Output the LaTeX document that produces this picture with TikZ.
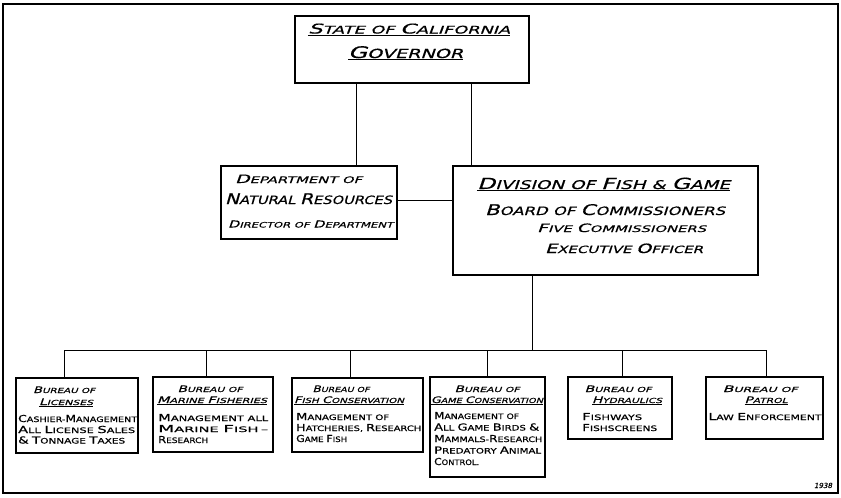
\documentclass[tikz,border=0pt]{standalone}
\usepackage{fontspec}
\usepackage{graphicx}
\newfontfamily\handsl[FakeSlant=0.22,FakeBold=0.5]{DejaVu Sans}
\newfontfamily\handup[FakeBold=0.5]{DejaVu Sans}
\newcommand\C[1]{\scalebox{1.28}{#1}}
\newcommand\lw[2]{\resizebox{#1pt}{\height}{#2}}
\newcommand\fs[1]{\fontsize{#1}{#1}\selectfont}
\begin{document}
\begin{tikzpicture}[x=1pt,y=-1pt,
  frame/.style={draw, line width=1.3pt, inner sep=0},
  bigbox/.style={draw, line width=1.6pt, inner sep=0},
  midbox/.style={draw, line width=1.1pt, inner sep=0},
  bbox/.style={draw, line width=1.4pt, inner sep=0},
  conn/.style={line width=0.7pt},
  tc/.style={inner sep=0, anchor=base},
  tl/.style={inner sep=0, anchor=base west},
  hsl/.style={font=\handsl},
  hup/.style={font=\handup}]
\useasboundingbox (0,0) rectangle (841,498);
% frame
\node[frame, minimum width=835pt, minimum height=489pt] (frm) at (420.5,248.5) {};
% main boxes
\node[bigbox, minimum width=234pt, minimum height=67pt] (gov) at (412,49.5) {};
\node[midbox, minimum width=176pt, minimum height=73pt] (dept) at (309,202.5) {};
\node[bigbox, minimum width=305pt, minimum height=109pt] (div) at (605.5,220.5) {};
% bureau boxes
\node[bbox, minimum width=122pt, minimum height=75pt] (bl) at (77,415.5) {};
\node[bbox, minimum width=120pt, minimum height=75pt] (bm) at (213,414.5) {};
\node[bbox, minimum width=131pt, minimum height=74pt] (bf) at (357.5,415) {};
\node[bbox, minimum width=115pt, minimum height=100pt] (bg) at (487.5,427) {};
\node[bbox, minimum width=104pt, minimum height=62pt] (bh) at (620,408) {};
\node[bbox, minimum width=117pt, minimum height=62pt] (bp) at (764.5,408) {};
% connector coordinates
\coordinate (gx1) at (356,120);
\coordinate (gx2) at (471,120);
\coordinate (hy) at (425,200);
\coordinate (dd) at (532,350);
\coordinate (b1) at (64,350);
\coordinate (b2) at (206,350);
\coordinate (b3) at (350,350);
\coordinate (b4) at (487,350);
\coordinate (b5) at (622,350);
\coordinate (b6) at (766,350);
% connectors
\draw[conn] (gov.south -| gx1) -- (dept.north -| gx1);
\draw[conn] (gov.south -| gx2) -- (div.north -| gx2);
\draw[conn] (dept.east |- hy) -- (div.west |- hy);
\draw[conn] (div.south -| dd) -- (dd);
\draw[conn] (b1) -- (b6);
\draw[conn] (b1) -- (bl.north -| b1);
\draw[conn] (b2) -- (bm.north -| b2);
\draw[conn] (b3) -- (bf.north -| b3);
\draw[conn] (b4) -- (bg.north -| b4);
\draw[conn] (b5) -- (bh.north -| b5);
\draw[conn] (b6) -- (bp.north -| b6);
% governor texts
\node[tc, hsl] (g1) at (409,33.5) {\fs{10.5}\lw{202}{\underline{\C{S}TATE OF \C{C}ALIFORNIA}}};
\node[tc, hsl] (g2) at (405.5,58) {\fs{12.5}\lw{115}{\underline{\C{G}OVERNOR}}};
% department texts
\node[tc, hsl] (d1) at (298.5,183) {\fs{9}\lw{127}{\C{D}EPARTMENT OF}};
\node[tc, hsl] (d2) at (308.5,204) {\fs{11.5}\lw{167}{\C{N}ATURAL \C{R}ESOURCES}};
\node[tc, hsl] (d3) at (310.5,227.5) {\fs{7.5}\lw{165}{\C{D}IRECTOR OF \C{D}EPARTMENT}};
% division texts
\node[tc, hsl] (v1) at (603.5,189) {\fs{12}\lw{253}{\underline{\C{D}IVISION OF \C{F}ISH \& \C{G}AME}}};
\node[tc, hsl] (v2) at (605,215) {\fs{11.5}\lw{240}{\C{B}OARD OF \C{C}OMMISSIONERS}};
\node[tc, hsl] (v3) at (621.5,232) {\fs{9}\lw{169}{\C{F}IVE \C{C}OMMISSIONERS}};
\node[tc, hsl] (v4) at (624,253) {\fs{10}\lw{158}{\C{E}XECUTIVE \C{O}FFICER}};
% bureau of licenses
\node[tc, hsl] (l1) at (64,393) {\fs{7}\lw{62}{\C{B}UREAU OF}};
\node[tc, hsl] (l2) at (66,405) {\fs{7}\lw{54}{\underline{\C{L}ICENSES}}};
\node[tl, hup] (l3) at (18,422) {\fs{7.5}\lw{119}{\C{C}ASHIER-\C{M}ANAGEMENT}};
\node[tl, hup] (l4) at (18,433) {\fs{7.5}\lw{117}{\C{A}LL \C{L}ICENSE \C{S}ALES}};
\node[tl, hup] (l5) at (18,443.5) {\fs{7.5}\lw{107}{\C{\&} \C{T}ONNAGE \C{T}AXES}};
% bureau of marine fisheries
\node[tc, hsl] (m1) at (210,392) {\fs{7}\lw{65}{\C{B}UREAU OF}};
\node[tc, hsl] (m2) at (212,403) {\fs{7}\lw{110}{\underline{\C{M}ARINE \C{F}ISHERIES}}};
\node[tl, hup] (m3) at (158,421) {\fs{7.5}\lw{110}{\C{M}ANAGEMENT ALL}};
\node[tl, hup] (m4) at (158,432) {\fs{7.5}\lw{110}{\C{M}ARINE \C{F}ISH\,–}};
\node[tl, hup] (m5) at (158,443) {\fs{7.5}\lw{50}{\C{R}ESEARCH}};
% bureau of fish conservation
\node[tc, hsl] (f1) at (341,392) {\fs{7}\lw{57}{\C{B}UREAU OF}};
\node[tc, hsl] (f2) at (349,403) {\fs{7}\lw{110}{\underline{\C{F}ISH \C{C}ONSERVATION}}};
\node[tl, hup] (f3) at (296,420) {\fs{7.5}\lw{93}{\C{M}ANAGEMENT OF}};
\node[tl, hup] (f4) at (296,431) {\fs{7.5}\lw{125}{\C{H}ATCHERIES, \C{R}ESEARCH}};
\node[tl, hup] (f5) at (296,442) {\fs{7.5}\lw{51}{\C{G}AME \C{F}ISH}};
% bureau of game conservation
\node[tc, hsl] (q1) at (487,392) {\fs{7}\lw{65}{\C{B}UREAU OF}};
\node[tc, hsl] (q2) at (487,403) {\fs{7}\lw{112}{\underline{\C{G}AME \C{C}ONSERVATION}}};
\node[tl, hup] (q3) at (434,419) {\fs{7.5}\lw{85}{\C{M}ANAGEMENT OF}};
\node[tl, hup] (q4) at (434,430.5) {\fs{7.5}\lw{105}{\C{A}LL \C{G}AME \C{B}IRDS \C{\&}}};
\node[tl, hup] (q5) at (434,442) {\fs{7.5}\lw{108}{\C{M}AMMALS-\C{R}ESEARCH}};
\node[tl, hup] (q6) at (434,453.5) {\fs{7.5}\lw{107}{\C{P}REDATORY \C{A}NIMAL}};
\node[tl, hup] (q7) at (434,465) {\fs{7.5}\lw{45}{\C{C}ONTROL.}};
% bureau of hydraulics
\node[tc, hsl] (h1) at (618,392) {\fs{7}\lw{67}{\C{B}UREAU OF}};
\node[tc, hsl] (h2) at (627,403) {\fs{7}\lw{70}{\underline{\C{H}YDRAULICS}}};
\node[tl, hup] (h3) at (582,420) {\fs{7.5}\lw{60}{\C{F}ISHWAYS}};
\node[tl, hup] (h4) at (582,431) {\fs{7.5}\lw{75}{\C{F}ISHSCREENS}};
% bureau of patrol
\node[tc, hsl] (p1) at (760,392) {\fs{7}\lw{75}{\C{B}UREAU OF}};
\node[tc, hsl] (p2) at (766,403) {\fs{7}\lw{43}{\underline{\C{P}ATROL}}};
\node[tc, hup] (p3) at (765,420) {\fs{7.5}\lw{113}{\C{L}AW \C{E}NFORCEMENT}};
% year
\node[tc, hsl] (yr) at (823,488) {\fs{7}\lw{18}{1938}};
\end{tikzpicture}
\end{document}
